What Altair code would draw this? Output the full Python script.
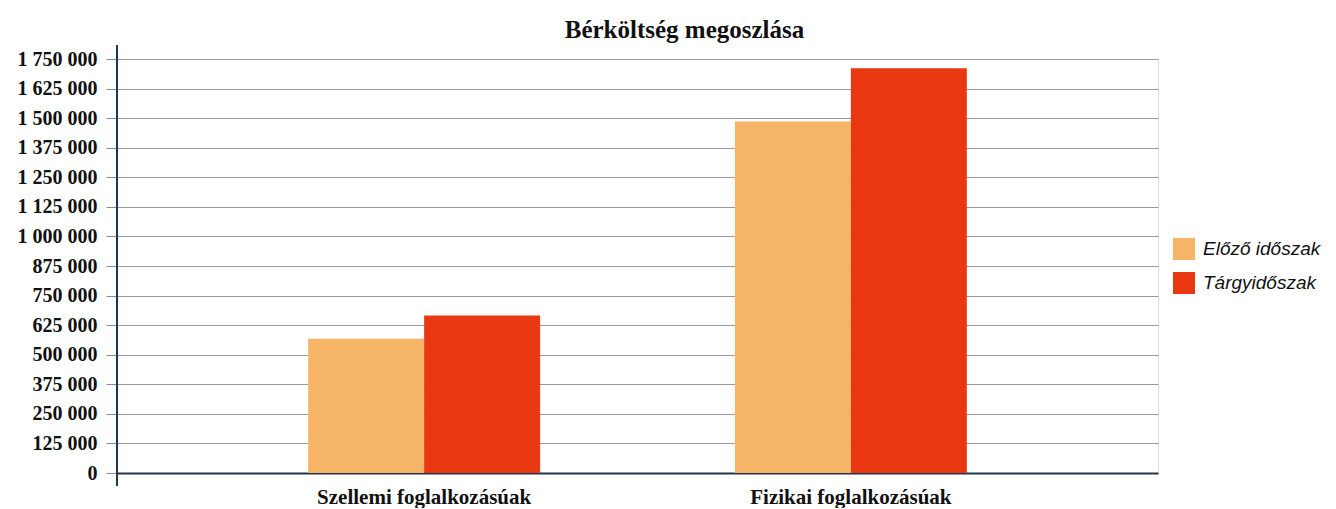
import altair as alt
import pandas as pd

categories = ["Szellemi foglalkozásúak", "Fizikai foglalkozásúak"]
series = ["Előző időszak", "Tárgyidőszak"]
prev_values = [568000, 1486000]
curr_values = [666000, 1711000]
colors = ["#F6B467", "#E9380F"]
y_ticks = [i * 125000 for i in range(15)]

rows = []
for c, p, q in zip(categories, prev_values, curr_values):
    rows.append({"kat": c, "sor": series[0], "ertek": p})
    rows.append({"kat": c, "sor": series[1], "ertek": q})
df = pd.DataFrame(rows)

serif = "Liberation Serif"

bars = alt.Chart(df).mark_bar(strokeWidth=0).encode(
    x=alt.X("kat:N", sort=categories, title=None,
            scale=alt.Scale(paddingInner=0.4565, paddingOuter=0.448),
            axis=alt.Axis(labelAngle=0, labelFont=serif, labelFontWeight="bold",
                          labelFontSize=21, labelColor="#111", labelPadding=13,
                          labelLimit=0,
                          ticks=False, domainColor="#1f3550", domainWidth=2,
                          grid=False)),
    xOffset=alt.XOffset("sor:N", sort=series, scale=alt.Scale(domain=series, paddingInner=0)),
    y=alt.Y("ertek:Q", title=None,
            scale=alt.Scale(domain=[0, 1750000], nice=False),
            axis=alt.Axis(values=y_ticks, labelFont=serif, labelFontWeight="bold",
                          labelFontSize=20, labelColor="#111", labelPadding=9,
                          tickSize=11, tickColor="#8a8a8a", domain=False,
                          gridColor="#9a9a9a", gridWidth=1,
                          labelExpr="replace(replace(format(datum.value, ','), ',', ' '), ',', ' ')")),
    color=alt.Color("sor:N", sort=series,
                    scale=alt.Scale(domain=series, range=colors),
                    legend=alt.Legend(title=None, orient="none", legendX=1056, legendY=179,
                                      symbolType="square", symbolSize=484,
                                      symbolStrokeWidth=0,
                                      labelFont="Liberation Sans", labelFontStyle="italic",
                                      labelFontSize=19, labelColor="#111",
                                      rowPadding=12, labelOffset=8)),
)

axis_line = alt.Chart(pd.DataFrame({"a": [0]})).mark_rule(color="#1f3550", strokeWidth=2).encode(
    x=alt.value(0), y=alt.value(-14), y2=alt.value(427)
)

chart = alt.layer(bars, axis_line).properties(
    width=1041,
    height=414,
    title=alt.TitleParams("Bérköltség megoszlása", font=serif, fontWeight="bold",
                          fontSize=25, color="#111", anchor="middle", dx=47, offset=1),
    autosize=alt.AutoSizeParams(type="none"),
    padding={"left": 109, "top": 51, "right": 170, "bottom": 35},
).configure_view(stroke=None).configure(background="white")

chart.save("out.html", embed_options={"renderer": "svg", "actions": False})
